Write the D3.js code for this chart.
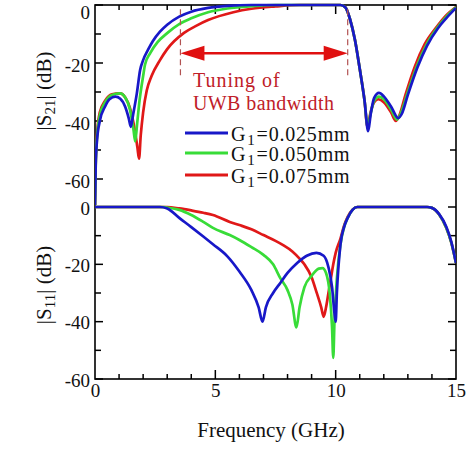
<!DOCTYPE html>
<html><head><meta charset="utf-8">
<script src="https://cdn.jsdelivr.net/npm/d3@7"></script>
<style>
body{margin:0;background:#fff}
svg text{font-family:"Liberation Serif","Tinos","Times New Roman","DejaVu Serif",serif !important;fill:#111}
</style>
</head><body>
<svg id="c" width="474" height="466"></svg>
<script>
// ---------- data ----------
const freqTicks = [0, 5, 10, 15];
const dbTicks = [0, -20, -40, -60];
const legendValues = ["0.025", "0.050", "0.075"];
const seriesColors = ["#1818c8", "#38dc38", "#e01818"];

// |S21| (dB) vs frequency (GHz)
const s21Blue = [[0,-69],[0.03,-55],[0.08,-47],[0.2,-40],[0.42,-35],[0.6,-32.5],[0.85,-31.6],[1.05,-32.3],[1.25,-35],[1.4,-39],[1.49,-42],[1.58,-38],[1.74,-30.4],[1.875,-22.4],[2.0,-19],[2.2,-15.5],[2.4,-12.5],[2.7,-9.2],[3.0,-6.8],[3.5,-4],[4.0,-2.3],[4.7,-1],[5.5,-0.3],[6.5,0],[10.2,0],[10.4,-0.8],[10.6,-5],[10.8,-12],[11.0,-22],[11.2,-33],[11.35,-43.5],[11.45,-38],[11.6,-32],[11.8,-30.3],[12.0,-31.5],[12.3,-35],[12.6,-39],[12.75,-37.5],[13.0,-31],[13.4,-21.5],[13.8,-14],[14.25,-8],[14.6,-4.5],[15,-1]];
const s21Green = [[0,-69],[0.03,-55],[0.08,-46],[0.2,-38],[0.42,-33.5],[0.7,-31],[1.04,-30.5],[1.25,-31.8],[1.45,-36],[1.6,-43],[1.67,-47],[1.75,-41],[1.85,-33],[2.0,-24.5],[2.08,-20.5],[2.3,-16.5],[2.6,-12.8],[3.0,-9.7],[3.5,-6.6],[4.0,-4.6],[4.7,-2.5],[5.5,-1.2],[6.5,-0.4],[7.5,0],[10.2,0],[10.4,-0.8],[10.6,-5],[10.8,-12],[11.0,-22],[11.2,-33],[11.33,-42],[11.45,-37.5],[11.6,-33],[11.8,-31.6],[12.0,-32.5],[12.3,-36],[12.55,-39.5],[12.7,-37.5],[13.0,-30],[13.4,-20.5],[13.8,-13.2],[14.25,-7.5],[14.6,-4],[15,-0.8]];
const s21Red = [[0,-69],[0.03,-54],[0.08,-45],[0.2,-37],[0.42,-33],[0.7,-30.8],[1.04,-30.5],[1.25,-31.8],[1.45,-35.5],[1.65,-43],[1.76,-49],[1.83,-53],[1.9,-45],[2.0,-37],[2.15,-29.5],[2.35,-24.5],[2.7,-19],[3.0,-15.2],[3.7,-9.6],[4.2,-7.2],[4.7,-5.2],[5.75,-2.5],[6.5,-1.3],[7.5,-0.5],[8.5,0],[10.2,0],[10.4,-0.8],[10.6,-5],[10.8,-12],[11.0,-22],[11.2,-33],[11.32,-42],[11.45,-37],[11.6,-33.5],[11.78,-32.5],[12.0,-33.5],[12.3,-37],[12.5,-40],[12.65,-38],[12.9,-31],[13.3,-21],[13.7,-13.5],[14.2,-7.5],[14.6,-3.5],[15,-0.7]];

// |S11| (dB) vs frequency (GHz)
const s11Blue = [[0,0],[2.7,0],[3.0,-0.5],[3.5,-3.8],[4.0,-7],[4.5,-10.3],[4.9,-13],[5.5,-17.2],[6.0,-22.5],[6.5,-29],[6.8,-35],[6.96,-40],[7.1,-35],[7.4,-30],[7.7,-26.5],[8.0,-23],[8.4,-19.5],[8.8,-17],[9.2,-16],[9.5,-17],[9.7,-21],[9.85,-28],[9.95,-37],[10.0,-40],[10.05,-30],[10.2,-13],[10.35,-7],[10.5,-3.8],[10.7,-1],[10.9,0],[13.8,0],[14.0,-0.3],[14.3,-2.5],[14.6,-7],[14.8,-12],[15,-19.5]];
const s11Green = [[0,0],[2.8,0],[3.0,-0.2],[3.5,-1],[4.0,-2.8],[4.5,-5.2],[4.9,-7.3],[5.6,-9.8],[6.0,-11.5],[6.5,-14],[7.0,-16.7],[7.4,-20],[7.7,-24.8],[8.0,-29],[8.2,-34],[8.37,-42],[8.5,-35],[8.7,-28],[9.0,-24],[9.3,-21.5],[9.45,-21.3],[9.6,-23],[9.75,-30],[9.85,-42],[9.9,-52.6],[9.95,-40],[10.05,-25],[10.2,-13],[10.35,-7],[10.5,-3.8],[10.7,-1],[10.9,0],[13.8,0],[14.0,-0.3],[14.3,-2.6],[14.6,-7.3],[14.8,-12.3],[15,-19.5]];
const s11Red = [[0,0],[3.0,0],[3.5,-0.5],[4.0,-1.2],[4.5,-2],[4.9,-2.8],[5.6,-5.2],[6.0,-6.3],[6.5,-7.8],[7.0,-9.8],[7.5,-11.8],[7.8,-13.2],[8.2,-15.5],[8.5,-18],[8.7,-20],[9.0,-24.5],[9.2,-29.6],[9.4,-35],[9.5,-38.3],[9.6,-35],[9.7,-30],[9.8,-25],[9.9,-20],[10.0,-16],[10.2,-11],[10.35,-6.5],[10.5,-3.4],[10.7,-0.9],[10.9,0],[13.8,0],[14.0,-0.3],[14.3,-2.6],[14.6,-7.3],[14.8,-12.3],[15,-19.5]];

// ---------- drawing ----------
const svg = d3.select("#c");
const L = 95, R = 456, T = 5, B = 379;
const x = d3.scaleLinear().domain([0, 15]).range([L, R]);
const yTop = d3.scaleLinear().domain([-60, 0]).range([179, T]);
const yBot = d3.scaleLinear().domain([-60, 0]).range([B, 207]);

svg.append("defs").append("clipPath").attr("id","clipTop")
  .append("rect").attr("x",L).attr("y",0).attr("width",R-L).attr("height",208);
svg.append("defs").append("clipPath").attr("id","clipBot")
  .append("rect").attr("x",L).attr("y",200).attr("width",R-L).attr("height",B-200);

const fs = 19;
// frame
svg.append("rect").attr("x",L).attr("y",T).attr("width",R-L).attr("height",B-T)
  .attr("fill","none").attr("stroke","#000").attr("stroke-width",1.6);

// minor/major ticks (inward)
d3.range(1, 15).forEach(f => {
  const len = f % 5 === 0 ? 9 : 5;
  svg.append("line").attr("x1",x(f)).attr("x2",x(f)).attr("y1",B).attr("y2",B-len).attr("stroke","#000").attr("stroke-width",1.5);
  svg.append("line").attr("x1",x(f)).attr("x2",x(f)).attr("y1",T).attr("y2",T+len).attr("stroke","#000").attr("stroke-width",1.5);
});
[yTop, yBot].forEach(ys => {
  d3.range(-60, 1, 10).forEach(v => {
    const len = v % 20 === 0 ? 8 : 6;
    svg.append("line").attr("x1",L).attr("x2",L+len).attr("y1",ys(v)).attr("y2",ys(v)).attr("stroke","#000").attr("stroke-width",1.5);
    svg.append("line").attr("x1",R).attr("x2",R-len).attr("y1",ys(v)).attr("y2",ys(v)).attr("stroke","#000").attr("stroke-width",1.5);
  });
});

// axis labels via d3 axes
const fmt = d => String(d);
const ax = svg.append("g").attr("transform",`translate(0,${B})`)
  .call(d3.axisBottom(x).tickValues(freqTicks).tickSize(0).tickPadding(5).tickFormat(fmt));
const ayT = svg.append("g").attr("transform",`translate(${L},2)`)
  .call(d3.axisLeft(yTop).tickValues(dbTicks).tickSize(0).tickPadding(5).tickFormat(fmt));
const ayB = svg.append("g").attr("transform",`translate(${L},1)`)
  .call(d3.axisLeft(yBot).tickValues(dbTicks).tickSize(0).tickPadding(5).tickFormat(fmt));
[ax, ayT, ayB].forEach(g => {
  g.select(".domain").remove();
  g.selectAll("text").attr("font-size", fs).attr("fill","#111");
});
ayT.selectAll(".tick").filter(d => d === 0).select("text").attr("dy", "0.62em");

// curves
const lineT = d3.line().x(d => x(d[0])).y(d => yTop(d[1])).curve(d3.curveMonotoneX);
const lineB = d3.line().x(d => x(d[0])).y(d => yBot(d[1])).curve(d3.curveMonotoneX);
const topSeries = [s21Red, s21Green, s21Blue];
const botSeries = [s11Red, s11Green, s11Blue];
const drawColors = [seriesColors[2], seriesColors[1], seriesColors[0]];
topSeries.forEach((s,i) => svg.append("path").attr("d", lineT(s)).attr("fill","none")
  .attr("stroke", drawColors[i]).attr("stroke-width",2.7).attr("clip-path","url(#clipTop)"));
botSeries.forEach((s,i) => svg.append("path").attr("d", lineB(s)).attr("fill","none")
  .attr("stroke", drawColors[i]).attr("stroke-width",2.7).attr("clip-path","url(#clipBot)"));

// annotation: dashed lines and double arrow
const bandEdges = [3.55, 10.5];
bandEdges.forEach(f => svg.append("line").attr("x1",x(f)).attr("x2",x(f)).attr("y1",yTop(-1.5)).attr("y2",yTop(-25.5))
  .attr("stroke","#b25252").attr("stroke-width",1.2).attr("stroke-dasharray","6,4"));
const ay = yTop(-16.6);
const x0 = x(bandEdges[0]), x1 = x(bandEdges[1]);
svg.append("line").attr("x1",x0+20).attr("x2",x1-20).attr("y1",ay).attr("y2",ay).attr("stroke","#e01010").attr("stroke-width",2.5);
svg.append("path").attr("d",`M${x0},${ay}L${x0+24},${ay-7.5}L${x0+24},${ay+7.5}Z`).attr("fill","#e01010");
svg.append("path").attr("d",`M${x1},${ay}L${x1-24},${ay-7.5}L${x1-24},${ay+7.5}Z`).attr("fill","#e01010");
svg.append("text").attr("x",193).attr("y",87).attr("font-size",20).attr("letter-spacing",1).style("fill","#c02028").text("Tuning of");
svg.append("text").attr("x",193).attr("y",110).attr("font-size",20).attr("letter-spacing",0.4).style("fill","#c02028").text("UWB bandwidth");

// legend
const legY = [141, 161, 183];
legendValues.forEach((v,i) => {
  svg.append("line").attr("x1",185).attr("x2",228).attr("y1",legY[i]-8).attr("y2",legY[i]-8)
    .attr("stroke", seriesColors[i]).attr("stroke-width",3);
  const t = svg.append("text").attr("x",231).attr("y",legY[i]).attr("font-size",20).attr("letter-spacing",0.8);
  t.append("tspan").text("G");
  t.append("tspan").attr("dx",1).attr("dy",4).attr("font-size",15).text("1");
  t.append("tspan").attr("dx",1).attr("dy",-4).text("=" + v + "mm");
});

// axis titles
function yTitle(cy, sub) {
  const t = svg.append("text").attr("transform",`translate(51,${cy}) rotate(-90)`).attr("text-anchor","middle").attr("font-size",21);
  t.append("tspan").text("|S");
  t.append("tspan").attr("dy",4).attr("font-size",15).text(sub);
  t.append("tspan").attr("dy",-4).text("| (dB)");
}
yTitle(91, "21");
yTitle(285, "11");
svg.append("text").attr("x",271).attr("y",437).attr("text-anchor","middle").attr("font-size",21).text("Frequency (GHz)");
</script>
</body></html>
